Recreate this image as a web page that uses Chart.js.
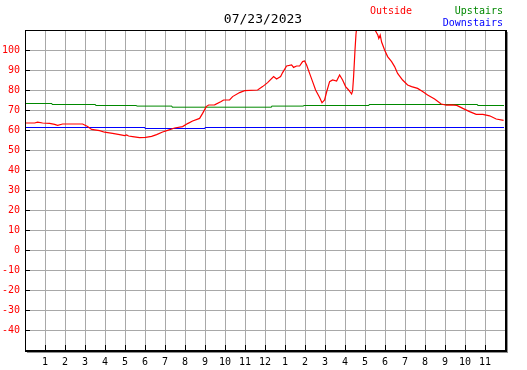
<!DOCTYPE html>
<html>
<head>
<meta charset="utf-8">
<script src="https://cdn.jsdelivr.net/npm/chart.js@4.4.1/dist/chart.umd.min.js"></script>
<style>
  body { margin: 0; background: #fff; }
  #wrap { position: relative; width: 527px; height: 370px; }
  .lbl { position: absolute; font-family: "DejaVu Sans Mono", monospace; white-space: nowrap; }
</style>
</head>
<body>
<div id="wrap">
  <canvas id="tempChart" width="527" height="370"></canvas>
  <div class="lbl" id="title" style="left:0;width:526px;text-align:center;top:11px;font-size:13px;line-height:16px;color:#000">07/23/2023</div>
  <div class="lbl" style="left:370px;top:5px;font-size:10px;line-height:12px;color:#ff0000">Outside</div>
  <div class="lbl" style="right:24px;top:5px;font-size:10px;line-height:12px;color:#008800">Upstairs</div>
  <div class="lbl" style="right:24px;top:17px;font-size:10px;line-height:12px;color:#0000ff">Downstairs</div>
</div>
<script>
// readings (hour of day, degrees)
const outsideHours = [0, 0.48, 0.63, 0.88, 1.23, 1.48, 1.63, 1.88, 2.88, 3.13,
  3.33, 3.73, 3.98, 4.38, 4.73, 4.98, 5.08, 5.18, 5.38, 5.73,
  6.03, 6.33, 6.58, 6.88, 7.13, 7.48, 7.88, 8.13, 8.38, 8.73,
  8.88, 9.06, 9.18, 9.48, 9.81, 9.93, 10.23, 10.38, 10.73, 10.98,
  11.63, 11.88, 12.13, 12.43, 12.58, 12.78, 12.88, 13.08, 13.33, 13.43,
  13.58, 13.73, 13.88, 13.98, 14.08, 14.23, 14.38, 14.53, 14.73, 14.85,
  14.98, 15.08, 15.23, 15.38, 15.58, 15.73, 15.88, 16.03, 16.18, 16.33,
  16.38, 16.43, 16.5, 16.55, 16.63, 17.03, 17.48, 17.53, 17.64, 17.69,
  17.76, 17.83, 17.98, 18.13, 18.33, 18.48, 18.63, 18.88, 19.13, 19.33,
  19.63, 19.88, 20.13, 20.48, 20.81, 21.06, 21.31, 21.59, 21.89, 22.23,
  22.56, 22.89, 23.23, 23.56, 23.93];
const outsideTemps = [63.5, 63.5, 63.9, 63.5, 63.3, 62.8, 62.3, 63, 63, 61.8,
  60.3, 59.7, 58.9, 58.3, 57.7, 57.2, 57.5, 57, 56.7, 56.2,
  56.3, 56.8, 57.7, 59, 59.8, 61, 61.7, 63.2, 64.5, 65.8,
  68.3, 71.7, 72.5, 72.6, 74.2, 75, 75, 76.7, 78.7, 79.7,
  80, 81.7, 83.7, 86.7, 85.5, 86.7, 88.7, 92, 92.6, 91.3,
  92, 92, 94.2, 94.5, 92.5, 88.3, 84.2, 80, 76.3, 73.6,
  75, 79, 84.2, 85, 84.5, 87.5, 85, 81.7, 80, 78,
  79.5, 86.7, 100, 108, 115, 120, 112, 109.5, 107.5, 105.8,
  107.5, 104, 100, 96.7, 94.2, 91.7, 88.3, 85, 82.5, 81.7,
  80.8, 79.2, 77.5, 75.5, 73, 72.4, 72.6, 72.3, 70.8, 69.2,
  67.8, 67.8, 67.1, 65.5, 64.8];

// indoor sensors: each value holds until the next listed hour
const upHours = [0, 1.35, 3.53, 5.58, 7.35, 12.33, 13.93, 17.2, 22.63, 23.95];
const upTemps = [73.25, 72.75, 72.25, 71.95, 71.4, 71.95, 72.25, 72.75, 72.25, 72.25];
const downHours = [0, 6.0, 9.0, 23.95];
const downTemps = [61.25, 60.75, 61.25, 61.25];

const hourLabels = ['1','2','3','4','5','6','7','8','9','10','11','12',
  '1','2','3','4','5','6','7','8','9','10','11'];
const tempTicks = [-40, -30, -20, -10, 0, 10, 20, 30, 40, 50, 60, 70, 80, 90, 100];

const toPoints = (xs, ys) => xs.map((h, i) => ({ x: h, y: ys[i] }));
const monoFont = { family: 'DejaVu Sans Mono', size: 10 };

// black frame with a grey drop shadow, plus short inward tick marks
const framePlugin = {
  id: 'frame',
  afterDraw(chart) {
    const { ctx, chartArea: a, scales } = chart;
    ctx.save();
    ctx.fillStyle = '#000';
    for (let h = 1; h < 24; h++) {
      const px = Math.round(scales.x.getPixelForValue(h) - 0.5);
      ctx.fillRect(px, a.bottom - 5, 1, 5);
    }
    tempTicks.forEach(t => {
      const py = Math.round(scales.y.getPixelForValue(t) - 0.5);
      ctx.fillRect(a.left, py, 5, 1);
    });
    ctx.fillStyle = '#909090';
    ctx.fillRect(a.right + 2, a.top + 2, 1, a.bottom - a.top + 1);
    ctx.fillRect(a.left + 2, a.bottom + 2, a.right - a.left + 1, 1);
    ctx.fillStyle = '#000';
    ctx.fillRect(a.left, a.top, a.right - a.left + 2, 1);
    ctx.fillRect(a.left, a.top, 1, a.bottom - a.top + 2);
    ctx.fillRect(a.right, a.top, 2, a.bottom - a.top + 2);
    ctx.fillRect(a.left, a.bottom, a.right - a.left + 2, 2);
    ctx.restore();
  }
};

new Chart(document.getElementById('tempChart'), {
  type: 'line',
  data: {
    datasets: [
      { label: 'Outside', data: toPoints(outsideHours, outsideTemps),
        borderColor: '#ff0000', borderWidth: 1.2, pointRadius: 0, tension: 0 },
      { label: 'Upstairs', data: toPoints(upHours, upTemps), stepped: 'before',
        borderColor: '#008800', borderWidth: 1, pointRadius: 0 },
      { label: 'Downstairs', data: toPoints(downHours, downTemps), stepped: 'before',
        borderColor: '#0000ff', borderWidth: 1, pointRadius: 0 }
    ]
  },
  options: {
    responsive: false,
    animation: false,
    devicePixelRatio: 1,
    layout: { padding: { top: 30, right: 22, bottom: 0, left: 0 } },
    plugins: { legend: { display: false }, tooltip: { enabled: false } },
    scales: {
      x: {
        type: 'linear', min: 0, max: 24,
        afterFit: s => { s.height = 20; },
        grid: { color: '#a8a8a8', lineWidth: 1, drawTicks: false },
        border: { display: false },
        ticks: {
          stepSize: 1, autoSkip: false, maxRotation: 0, padding: 6,
          color: '#000', font: monoFont,
          callback: v => (v > 0 && v < 24) ? hourLabels[v - 1] : ''
        }
      },
      y: {
        min: -50, max: 110,
        afterFit: s => { s.width = 25; },
        grid: { color: '#a8a8a8', lineWidth: 1, drawTicks: false },
        border: { display: false },
        ticks: {
          stepSize: 10, padding: 5, color: '#ff0000', font: monoFont,
          callback: v => tempTicks.includes(v) ? String(v) : ''
        }
      }
    }
  },
  plugins: [framePlugin]
});
</script>
</body>
</html>
